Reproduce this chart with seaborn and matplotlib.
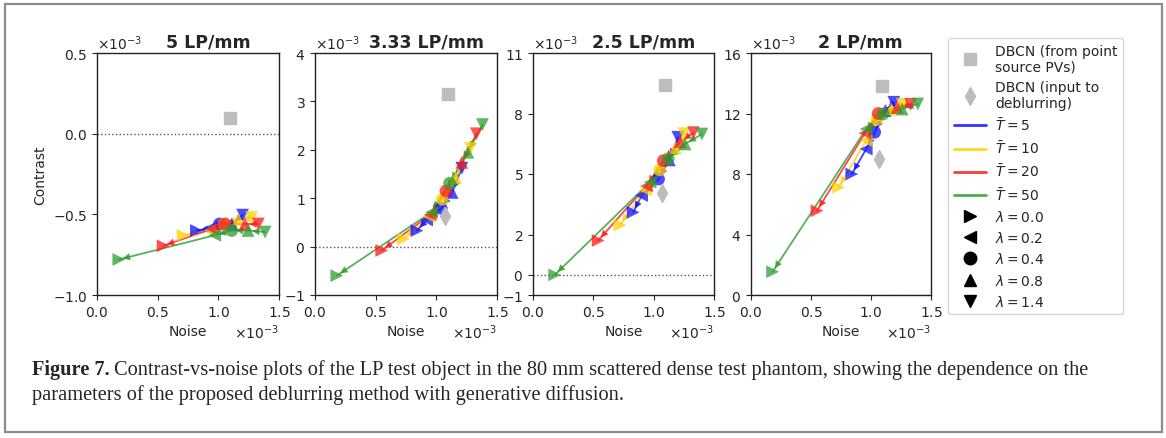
import matplotlib
matplotlib.use("Agg")
import numpy as np
import pandas as pd
import seaborn as sns
import matplotlib.pyplot as plt
from matplotlib.lines import Line2D
from matplotlib.patches import Rectangle
from matplotlib.ticker import ScalarFormatter

# ---------------- data (noise & contrast in units of 1e-3) ----------------
T_VALUES = [5, 10, 20, 50]
LAMBDAS = ["0.0", "0.2", "0.4", "0.8", "1.4"]
TITLES = ["5 LP/mm", "3.33 LP/mm", "2.5 LP/mm", "2 LP/mm"]

# rows: T=5, 10, 20, 50 ; columns: lambda = 0.0, 0.2, 0.4, 0.8, 1.4
noise_5lp = [[0.82, 0.92, 1.01, 1.11, 1.20],
             [0.71, 0.93, 1.05, 1.165, 1.275],
             [0.545, 0.95, 1.055, 1.22, 1.33],
             [0.18, 0.97, 1.11, 1.245, 1.385]]
contrast_5lp = [[-0.60, -0.59, -0.56, -0.56, -0.505],
                [-0.63, -0.60, -0.56, -0.53, -0.52],
                [-0.695, -0.59, -0.56, -0.56, -0.56],
                [-0.78, -0.63, -0.60, -0.60, -0.61]]

noise_333lp = [[0.84, 0.92, 1.04, 1.13, 1.21],
               [0.73, 0.94, 1.05, 1.16, 1.28],
               [0.55, 0.95, 1.08, 1.21, 1.33],
               [0.18, 0.96, 1.11, 1.26, 1.38]]
contrast_333lp = [[0.33, 0.55, 0.79, 1.12, 1.62],
                  [0.16, 0.62, 0.98, 1.42, 2.03],
                  [-0.08, 0.66, 1.15, 1.74, 2.33],
                  [-0.60, 0.71, 1.31, 1.95, 2.52]]

noise_25lp = [[0.83, 0.90, 1.04, 1.13, 1.20],
              [0.72, 0.93, 1.05, 1.18, 1.25],
              [0.54, 0.94, 1.08, 1.22, 1.33],
              [0.18, 0.97, 1.12, 1.26, 1.40]]
contrast_25lp = [[3.1, 3.93, 4.75, 5.7, 6.82],
                 [2.47, 4.2, 5.2, 6.3, 7.0],
                 [1.7, 4.4, 5.66, 6.6, 7.05],
                 [0.0, 4.59, 5.75, 6.49, 6.98]]

noise_2lp = [[0.84, 0.96, 1.03, 1.12, 1.19],
             [0.73, 0.96, 1.05, 1.17, 1.26],
             [0.55, 0.95, 1.06, 1.22, 1.33],
             [0.18, 0.96, 1.10, 1.26, 1.39]]
contrast_2lp = [[8.0, 9.65, 10.76, 12.2, 12.74],
                [7.12, 10.2, 11.6, 12.3, 12.6],
                [5.57, 10.7, 12.0, 12.4, 12.6],
                [1.54, 10.98, 11.97, 12.3, 12.63]]

# DBCN reference points per panel
dbcn_pv_noise = [1.10, 1.10, 1.09, 1.09]
dbcn_pv_contrast = [0.10, 3.15, 9.41, 13.84]
dbcn_in_noise = [1.07, 1.07, 1.07, 1.07]
dbcn_in_contrast = [np.nan, 0.64, 4.06, 9.0]

YTICKS = [[-1.0, -0.5, 0.0, 0.5], [-1, 0, 1, 2, 3, 4],
          [-1, 0, 2, 5, 8, 11], [0, 4, 8, 12, 16]]
YLIMS = [(-1.0, 0.5), (-1, 4), (-1, 11), (0, 16)]
XTICKS = [0.0, 0.5, 1.0, 1.5]

SCALE = 1e-3

# ---------------- style ----------------
sns.set_style("ticks")
plt.rcParams["font.family"] = ["DejaVu Sans"]
plt.rcParams["mathtext.fontset"] = "dejavusans"
plt.rcParams["xtick.labelsize"] = 10
plt.rcParams["ytick.labelsize"] = 10
plt.rcParams["axes.labelsize"] = 10
plt.rcParams["axes.edgecolor"] = "#222222"

PALETTE = {5: "#1010ff", 10: "#ffd200", 20: "#ff1a1a", 50: "#2e9e2e"}
MARKERS = {"0.0": ">", "0.2": "<", "0.4": "o", "0.8": "^", "1.4": "v"}

W, H = 1166, 439
fig = plt.figure(figsize=(W / 100, H / 100), dpi=100)
fig.patch.set_facecolor("white")

ax_px = [(97, 279), (315, 497), (533, 714), (751, 931)]
top_px, bot_px = 54, 296

noise_sets = [noise_5lp, noise_333lp, noise_25lp, noise_2lp]
contrast_sets = [contrast_5lp, contrast_333lp, contrast_25lp, contrast_2lp]

for k in range(4):
    l, r = ax_px[k]
    ax = fig.add_axes([l / W, (H - bot_px) / H, (r - l) / W, (bot_px - top_px) / H])
    rows = []
    for ti, T in enumerate(T_VALUES):
        for li, lam in enumerate(LAMBDAS):
            rows.append({"T": T, "lam": lam,
                         "noise": noise_sets[k][ti][li] * SCALE,
                         "contrast": contrast_sets[k][ti][li] * SCALE})
    df = pd.DataFrame(rows)

    ax.axhline(0, color="#555555", ls=":", lw=1.0, zorder=1)

    sns.lineplot(data=df, x="noise", y="contrast", hue="T", palette=PALETTE,
                 sort=False, estimator=None, legend=False, lw=1.3, alpha=0.8,
                 ax=ax, zorder=2)
    # arrow heads pointing towards lower lambda
    for ti, T in enumerate(T_VALUES):
        sub = df[df["T"] == T].reset_index(drop=True)
        for i in range(len(sub) - 1):
            ax.annotate("", xy=(sub.noise[i], sub.contrast[i]),
                        xytext=(sub.noise[i + 1], sub.contrast[i + 1]),
                        arrowprops=dict(arrowstyle="-|>", color=PALETTE[T], lw=0,
                                        alpha=0.85, shrinkA=0, shrinkB=3,
                                        mutation_scale=13), zorder=2)

    sns.scatterplot(data=df, x="noise", y="contrast", hue="T", palette=PALETTE,
                    style="lam", markers=MARKERS, s=85, alpha=0.75, linewidth=0,
                    legend=False, ax=ax, zorder=3)

    ax.plot([dbcn_pv_noise[k] * SCALE], [dbcn_pv_contrast[k] * SCALE], ls="",
            marker="s", ms=9, color="#bdbdbd", zorder=4)
    ax.plot([dbcn_in_noise[k] * SCALE], [dbcn_in_contrast[k] * SCALE], ls="",
            marker="d", ms=9, color="#bdbdbd", zorder=4)

    ax.set_xlim(0, 1.5 * SCALE)
    ax.set_xticks([v * SCALE for v in XTICKS])
    ax.set_ylim(YLIMS[k][0] * SCALE, YLIMS[k][1] * SCALE)
    ax.set_yticks([v * SCALE for v in YTICKS[k]])
    for axis in (ax.xaxis, ax.yaxis):
        fmt = ScalarFormatter(useMathText=True)
        fmt.set_powerlimits((-3, -3))
        axis.set_major_formatter(fmt)
    ax.set_xlabel("Noise")
    ax.set_ylabel("Contrast" if k == 0 else "")
    ax.set_title(TITLES[k], fontsize=12.5, fontweight="bold", x=0.61, pad=5)
    for s in ax.spines.values():
        s.set_visible(True)
        s.set_linewidth(1.0)

# ---------------- legend ----------------
handles = [
    Line2D([], [], ls="", marker="s", ms=9, color="#bdbdbd"),
    Line2D([], [], ls="", marker="d", ms=9, color="#bdbdbd"),
]
labels = ["DBCN (from point\nsource PVs)", "DBCN (input to\ndeblurring)"]
for T in T_VALUES:
    handles.append(Line2D([], [], color=PALETTE[T], lw=2, alpha=0.85))
    labels.append(r"$\bar{T} = %d$" % T)
for lam in LAMBDAS:
    handles.append(Line2D([], [], ls="", marker=MARKERS[lam], ms=9, color="black"))
    labels.append(r"$\lambda = %s$" % lam)
fig.legend(handles, labels, loc="upper left", bbox_to_anchor=(948 / W, 1 - 39 / H),
           borderaxespad=0, fontsize=10, frameon=True, fancybox=True,
           edgecolor="#cccccc", handlelength=2.3, handletextpad=0.7,
           labelspacing=0.45, borderpad=0.4)

# ---------------- frame and caption ----------------
fig.patches.append(Rectangle((5 / W, 1 - 433 / H), (1162 - 5) / W, (433 - 5) / H,
                             transform=fig.transFigure, fill=False,
                             edgecolor="#8c8c8c", lw=1.6))

cap_fs = 14.7
cap_family = ["Liberation Serif", "DejaVu Serif"]
line1_y = 1 - 370 / H
line2_y = 1 - 395 / H
t_bold = fig.text(32 / W, line1_y, "Figure 7.", fontsize=cap_fs, fontweight="bold",
                  family=cap_family, va="center", ha="left")
fig.canvas.draw()
bb = t_bold.get_window_extent(renderer=fig.canvas.get_renderer())
fig.text((bb.x1 + 4) / W, line1_y,
         "Contrast-vs-noise plots of the LP test object in the 80 mm scattered dense "
         "test phantom, showing the dependence on the",
         fontsize=cap_fs, family=cap_family, va="center", ha="left")
fig.text(32 / W, line2_y,
         "parameters of the proposed deblurring method with generative diffusion.",
         fontsize=cap_fs, family=cap_family, va="center", ha="left")

fig.savefig("out.png", dpi=100, facecolor="white")
